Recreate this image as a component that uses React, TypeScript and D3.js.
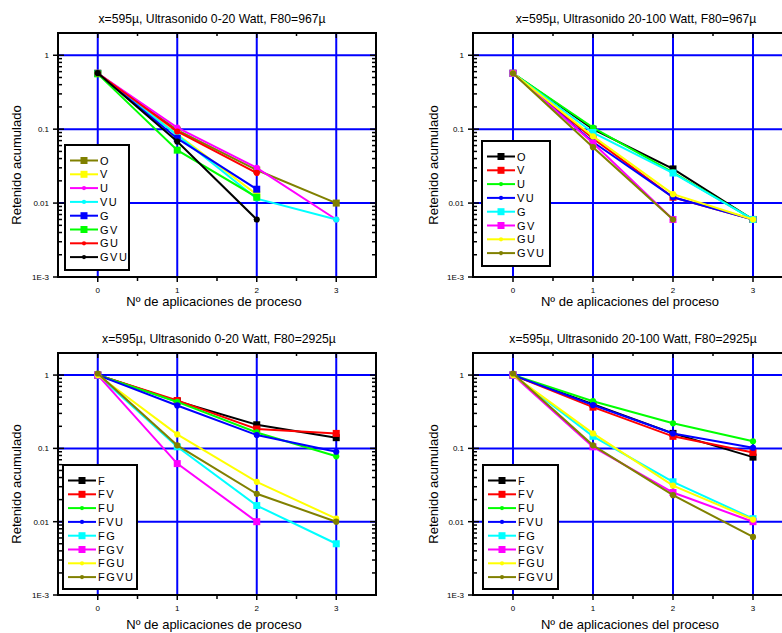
import React from 'react';
import * as d3 from 'd3';

// x values (Nº de aplicaciones)
const steps = [0, 1, 2, 3];

// top panels: series names
const namesTop = ['O', 'V', 'U', 'VU', 'G', 'GV', 'GU', 'GVU'];
// bottom panels: series names
const namesBottom = ['F', 'FV', 'FU', 'FVU', 'FG', 'FGV', 'FGU', 'FGVU'];

// symbol per series (same pattern in every panel)
const shapes = ['square', 'square', 'circle', 'circle', 'square', 'square', 'circle', 'circle'];

const colorsA = ['#808000', '#ffff00', '#ff00ff', '#00ffff', '#0000ff', '#00ff00', '#ff0000', '#000000'];
const colorsB = ['#000000', '#ff0000', '#00ff00', '#0000ff', '#00ffff', '#ff00ff', '#ffff00', '#808000'];

// x=595µ, Ultrasonido 0-20 Watt, F80=967µ
const valuesA = [
  [0.57, 0.097, 0.028, 0.01],
  [0.57, 0.085, 0.013],
  [0.57, 0.105, 0.03, 0.006],
  [0.57, 0.083, 0.0115, 0.006],
  [0.57, 0.075, 0.0154],
  [0.56, 0.052, 0.012],
  [0.57, 0.093, 0.0256],
  [0.575, 0.068, 0.006],
];

// x=595µ, Ultrasonido 20-100 Watt, F80=967µ
const valuesB = [
  [0.57, 0.1, 0.029, 0.006],
  [0.57, 0.075, 0.012, 0.006],
  [0.57, 0.105, 0.026, 0.006],
  [0.57, 0.067, 0.012, 0.006],
  [0.57, 0.09, 0.0255, 0.006],
  [0.57, 0.065, 0.006],
  [0.57, 0.08, 0.0132, 0.006],
  [0.57, 0.057, 0.006],
];

// x=595µ, Ultrasonido 0-20 Watt, F80=2925µ
const valuesC = [
  [1.0, 0.44, 0.21, 0.14],
  [1.0, 0.45, 0.184, 0.16],
  [1.0, 0.43, 0.165, 0.078],
  [1.0, 0.385, 0.152, 0.09],
  [1.0, 0.105, 0.0166, 0.005],
  [1.0, 0.062, 0.01],
  [1.0, 0.155, 0.035, 0.011],
  [1.05, 0.11, 0.024, 0.01],
];

// x=595µ, Ultrasonido 20-100 Watt, F80=2925µ
const valuesD = [
  [1.0, 0.4, 0.16, 0.076],
  [1.0, 0.365, 0.146, 0.088],
  [1.0, 0.44, 0.22, 0.125],
  [1.0, 0.39, 0.16, 0.102],
  [1.0, 0.146, 0.035, 0.011],
  [1.0, 0.105, 0.025, 0.01],
  [1.0, 0.16, 0.031, 0.0107],
  [1.05, 0.11, 0.023, 0.0062],
];

const yTickValues = [0.001, 0.01, 0.1, 1];
const yTickLabels = ['1E-3', '0.01', '0.1', '1'];

const font = '"Liberation Sans", Arial, sans-serif';

const panels = [
  {
    title: 'x=595\u00b5, Ultrasonido 0-20 Watt, F80=967\u00b5', xLabel: 'N\u00ba de aplicaciones de proceso',
    names: namesTop, colors: colorsA, values: valuesA,
    left: 58, right: 376, top: 33, bottom: 277, titleX: 212, xLabelY: 306, yLabelX: 21,
    legend: { x: 65, y: 145, w: 64, h: 125 },
  },
  {
    title: 'x=595\u00b5, Ultrasonido 20-100 Watt, F80=967\u00b5', xLabel: 'N\u00ba de aplicaciones del proceso',
    names: namesTop, colors: colorsB, values: valuesB,
    left: 473, right: 793, top: 33, bottom: 277, titleX: 636, xLabelY: 306, yLabelX: 438,
    legend: { x: 482, y: 141, w: 68, h: 125 },
  },
  {
    title: 'x=595\u00b5, Ultrasonido 0-20 Watt, F80=2925\u00b5', xLabel: 'N\u00ba de aplicaciones de proceso',
    names: namesBottom, colors: colorsB, values: valuesC,
    left: 58, right: 376, top: 353, bottom: 595, titleX: 219, xLabelY: 629, yLabelX: 21,
    legend: { x: 63, y: 465, w: 74, h: 124 },
  },
  {
    title: 'x=595\u00b5, Ultrasonido 20-100 Watt, F80=2925\u00b5', xLabel: 'N\u00ba de aplicaciones del proceso',
    names: namesBottom, colors: colorsB, values: valuesD,
    left: 473, right: 793, top: 353, bottom: 595, titleX: 633, xLabelY: 629, yLabelX: 438,
    legend: { x: 483, y: 465, w: 75, h: 124 },
  },
];

const Marker = ({ shape, x, y, color, size }) =>
  shape === 'square'
    ? <rect x={x - size / 2} y={y - size / 2} width={size} height={size} fill={color} />
    : <circle cx={x} cy={y} r={size / 2 - 0.4} fill={color} />;

const Panel = ({ p }) => {
  const x = d3.scaleLinear().domain([-0.5, 3.5]).range([p.left, p.right]);
  const y = d3.scaleLog().domain([0.001, 2]).range([p.bottom, p.top]);
  const line = d3.line<number>().x((_, i) => x(steps[i])).y(d => y(d));

  const minor: number[] = [];
  [0.001, 0.01, 0.1, 1].forEach(dec => {
    for (let k = 2; k <= 9; k++) if (dec * k <= 2) minor.push(dec * k);
  });
  const halves = [0.5, 1.5, 2.5];

  return (
    <g>
      <text x={p.titleX} y={p.top - 10} textAnchor="middle" fontSize={12.2} fontFamily={font}>{p.title}</text>
      {/* grid */}
      {steps.map(s => (
        <line key={'gx' + s} x1={x(s)} x2={x(s)} y1={p.top} y2={p.bottom} stroke="#0000ff" strokeWidth={2} />
      ))}
      {[0.01, 0.1, 1].map(v => (
        <line key={'gy' + v} x1={p.left} x2={p.right} y1={y(v)} y2={y(v)} stroke="#0000ff" strokeWidth={2} />
      ))}
      {/* series */}
      {p.values.map((vals, si) => (
        <g key={'s' + si}>
          <path d={line(vals) || ''} fill="none" stroke={p.colors[si]} strokeWidth={2} />
          {vals.map((v, i) => (
            <Marker key={i} shape={shapes[si]} x={x(steps[i])} y={y(v)} color={p.colors[si]} size={7} />
          ))}
        </g>
      ))}
      {/* frame */}
      <rect x={p.left} y={p.top} width={p.right - p.left} height={p.bottom - p.top} fill="none" stroke="#000" strokeWidth={2} />
      {/* y ticks */}
      {minor.map(v => (
        <g key={'m' + v}>
          <line x1={p.left} x2={p.left + 4} y1={y(v)} y2={y(v)} stroke="#000" strokeWidth={1.5} />
          <line x1={p.right} x2={p.right - 4} y1={y(v)} y2={y(v)} stroke="#000" strokeWidth={1.5} />
        </g>
      ))}
      {yTickValues.map((v, i) => (
        <g key={'yt' + v}>
          <line x1={p.left - 5} x2={p.left + 6} y1={y(v)} y2={y(v)} stroke="#000" strokeWidth={1.5} />
          <line x1={p.right} x2={p.right - 6} y1={y(v)} y2={y(v)} stroke="#000" strokeWidth={1.5} />
          <text x={p.left - 9} y={y(v) + 3} textAnchor="end" fontSize={8} fontFamily={font}>{yTickLabels[i]}</text>
        </g>
      ))}
      {/* x ticks */}
      {steps.map(s => (
        <g key={'xt' + s}>
          <line x1={x(s)} x2={x(s)} y1={p.bottom} y2={p.bottom + 5} stroke="#000" strokeWidth={1.5} />
          <line x1={x(s)} x2={x(s)} y1={p.top} y2={p.top + 5} stroke="#000" strokeWidth={1.5} />
          <text x={x(s)} y={p.bottom + 16} textAnchor="middle" fontSize={8} fontFamily={font}>{s}</text>
        </g>
      ))}
      {halves.map(s => (
        <g key={'xh' + s}>
          <line x1={x(s)} x2={x(s)} y1={p.bottom} y2={p.bottom + 4} stroke="#000" strokeWidth={1.5} />
          <line x1={x(s)} x2={x(s)} y1={p.top} y2={p.top + 3} stroke="#000" strokeWidth={1.5} />
        </g>
      ))}
      <text x={(p.left + p.right) / 2 - 3} y={p.xLabelY} textAnchor="middle" fontSize={13} fontFamily={font}>{p.xLabel}</text>
      <text transform={`translate(${p.yLabelX},${(p.top + p.bottom) / 2 + 10}) rotate(-90)`} textAnchor="middle" fontSize={13} fontFamily={font}>Retenido acumulado</text>
      {/* legend */}
      <rect x={p.legend.x} y={p.legend.y} width={p.legend.w} height={p.legend.h} fill="#fff" stroke="#000" strokeWidth={2} />
      {p.names.map((n, i) => {
        const ly = p.legend.y + 15.5 + i * 13.8;
        const lx = p.legend.x;
        return (
          <g key={'l' + n}>
            <line x1={lx + 5} x2={lx + 33} y1={ly} y2={ly} stroke={p.colors[i]} strokeWidth={2} />
            <Marker shape={shapes[i]} x={lx + 19} y={ly} color={p.colors[i]} size={shapes[i] === 'square' ? 7 : 5} />
            <text x={lx + 35} y={ly + 4} fontSize={11} fontFamily={font} letterSpacing={1.5}>{n}</text>
          </g>
        );
      })}
    </g>
  );
};

export default function App() {
  return (
    <svg width={782} height={633} style={{ position: 'absolute', left: 0, top: 0, background: '#fff' }}>
      {panels.map((p, i) => <Panel key={i} p={p} />)}
    </svg>
  );
}
